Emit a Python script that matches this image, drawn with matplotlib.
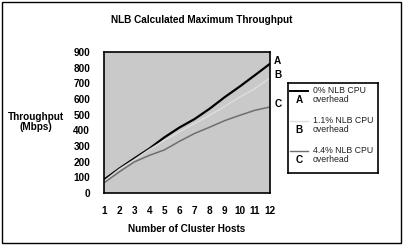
"""NLB calculated maximum throughput chart."""
import matplotlib
matplotlib.use("Agg")
import matplotlib.pyplot as plt
from matplotlib.lines import Line2D

plt.rcParams["font.family"] = ["Liberation Sans", "DejaVu Sans"]

hosts = [1, 2, 3, 4, 5, 6, 7, 8, 9, 10, 11, 12]
series_a = [85, 155, 220, 283, 355, 418, 472, 538, 612, 680, 752, 825]
series_b = [75, 150, 212, 277, 336, 390, 443, 496, 553, 613, 666, 735]
series_c = [65, 134, 198, 240, 275, 330, 380, 420, 462, 496, 528, 549]
letters = ["A", "B", "C"]
legend_labels = ["0% NLB CPU\noverhead", "1.1% NLB CPU\noverhead", "4.4% NLB CPU\noverhead"]
colors = ["#000000", "#dcdcdc", "#6e6e6e"]
widths = [1.6, 1.1, 1.1]
yticks = list(range(0, 1000, 100))

FS = 7.2

fig = plt.figure(figsize=(4.04, 2.46), dpi=100)
fig.patch.set_facecolor("white")
# outer frame
fig.add_artist(plt.Rectangle((0.006, 0.012), 0.986, 0.978, transform=fig.transFigure,
                             fill=False, lw=1.0, ec="black"))

ax = fig.add_axes([104 / 404, 1 - 193 / 246, 166 / 404, 141 / 246])
ax.set_facecolor("#c9c9c9")
for ys, c, w, lt in zip([series_a, series_b, series_c], colors, widths, letters):
    ax.plot(hosts, ys, color=c, lw=w)
    ax.annotate(lt, (hosts[-1], ys[-1]), xytext=(3, 2), textcoords="offset points",
                fontsize=FS, fontweight="bold", va="center", ha="left", annotation_clip=False)
ax.set_xlim(1, 12); ax.set_ylim(0, 900)
ax.set_xticks(hosts); ax.set_yticks(yticks)
ax.tick_params(length=0, labelsize=FS)
ax.tick_params(axis="x", pad=9)
ax.tick_params(axis="y", pad=10)
for t in ax.get_xticklabels() + ax.get_yticklabels():
    t.set_fontweight("bold")
for s in ax.spines.values():
    s.set_linewidth(1.2)
ax.set_xlabel("Number of Cluster Hosts", fontsize=FS, fontweight="bold", labelpad=6)
fig.text(36 / 404, 1 - 122 / 246, "Throughput\n(Mbps)", fontsize=FS, fontweight="bold",
         ha="center", va="center", linespacing=0.95)
fig.text(202 / 404, 1 - 20 / 246, "NLB Calculated Maximum Throughput", fontsize=FS,
         fontweight="bold", ha="center", va="center")

# legend box
lg = fig.add_axes([288 / 404, 1 - 173 / 246, 90 / 404, 90 / 246])
lg.set_xlim(0, 90); lg.set_ylim(90, 0)
lg.set_xticks([]); lg.set_yticks([])
for s in lg.spines.values():
    s.set_linewidth(1.2)
for i, (lt, lab, c) in enumerate(zip(letters, legend_labels, colors)):
    y0 = 8 + i * 30
    lg.add_line(Line2D([2, 20], [y0, y0], color=c, lw=1.4 if i == 0 else 1.0))
    lg.text(11, y0 + 9, lt, fontsize=FS, fontweight="bold", ha="center", va="center")
    lg.text(25, y0 + 4, lab, fontsize=6.3, ha="left", va="center", color="#222222",
            linespacing=1.05)

fig.savefig("out.png", dpi=100)
